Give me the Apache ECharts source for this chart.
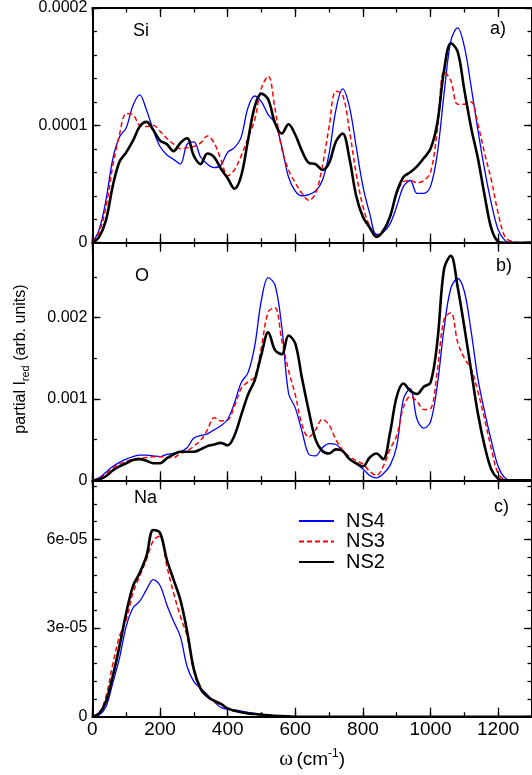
<!DOCTYPE html>
<html>
<head>
<meta charset="utf-8">
<script src="https://cdn.jsdelivr.net/npm/echarts@6.0.0/dist/echarts.min.js"></script>
<style>
  html, body { margin: 0; padding: 0; background: #fff; }
  #chart { width: 532px; height: 775px; }
</style>
</head>
<body>
<div id="chart"></div>
<script>
// frequency grid, cm^-1
const omega = [0, 20, 40, 60, 80, 100, 120, 140, 160, 180, 200, 220, 240, 260, 280, 300, 320, 340, 360, 380,
  400, 420, 440, 460, 480, 500, 520, 540, 560, 580, 600, 620, 640, 660, 680, 700, 720, 740, 760, 780,
  800, 820, 840, 860, 880, 900, 920, 940, 960, 980, 1000, 1020, 1040, 1060, 1080, 1100, 1120, 1140, 1160, 1180,
  1200, 1220, 1240, 1260, 1280, 1300];

// Si, in units of 1e-4
const siNS4 = [0, 0.11, 0.36, 0.71, 0.90, 0.98, 1.17, 1.26, 1.13, 0.96, 0.82, 0.75, 0.71, 0.67, 0.84, 0.86, 0.73, 0.67, 0.64, 0.66,
  0.77, 0.81, 0.90, 1.15, 1.25, 1.20, 1.09, 1.02, 0.82, 0.56, 0.44, 0.40, 0.41, 0.44, 0.53, 0.76, 1.13, 1.31, 1.16, 0.82,
  0.48, 0.25, 0.07, 0.09, 0.16, 0.31, 0.48, 0.53, 0.42, 0.42, 0.48, 0.76, 1.27, 1.72, 1.83, 1.67, 1.33, 0.96, 0.62, 0.33,
  0.11, 0.02, 0, 0, 0, 0];
const siNS3 = [0, 0.09, 0.30, 0.65, 0.92, 1.10, 1.09, 1.00, 0.99, 1.00, 0.95, 0.89, 0.84, 0.80, 0.81, 0.82, 0.85, 0.91, 0.85, 0.71,
  0.57, 0.62, 0.74, 0.89, 1.05, 1.32, 1.42, 1.14, 0.80, 0.62, 0.51, 0.42, 0.36, 0.42, 0.65, 0.99, 1.29, 1.26, 0.96, 0.59,
  0.31, 0.14, 0.06, 0.11, 0.22, 0.42, 0.52, 0.53, 0.51, 0.53, 0.60, 0.96, 1.46, 1.38, 1.18, 1.18, 1.20, 1.01, 0.76, 0.53,
  0.25, 0.05, 0.01, 0, 0, 0];
const siNS2 = [0, 0.05, 0.19, 0.48, 0.69, 0.77, 0.87, 0.99, 1.03, 0.96, 0.87, 0.84, 0.78, 0.85, 0.89, 0.74, 0.67, 0.76, 0.73, 0.63,
  0.55, 0.46, 0.57, 0.87, 1.16, 1.27, 1.22, 1.02, 0.93, 1.01, 0.92, 0.78, 0.68, 0.67, 0.62, 0.68, 0.86, 0.93, 0.72, 0.40,
  0.22, 0.13, 0.05, 0.10, 0.22, 0.43, 0.56, 0.60, 0.65, 0.72, 0.80, 1.02, 1.47, 1.70, 1.63, 1.30, 0.98, 0.72, 0.40, 0.12,
  0.01, 0, 0, 0, 0, 0];

// O, in units of 1e-3
const oNS4 = [0, 0.03, 0.10, 0.17, 0.22, 0.26, 0.29, 0.31, 0.31, 0.30, 0.29, 0.32, 0.33, 0.35, 0.40, 0.52, 0.55, 0.57, 0.62, 0.67,
  0.75, 0.95, 1.20, 1.32, 1.65, 2.22, 2.49, 2.40, 1.89, 1.07, 0.89, 0.60, 0.32, 0.30, 0.40, 0.45, 0.44, 0.36, 0.27, 0.20,
  0.14, 0.06, 0.03, 0.08, 0.18, 0.42, 1.00, 1.13, 0.75, 0.64, 0.72, 1.17, 1.87, 2.36, 2.48, 2.32, 1.83, 1.25, 0.84, 0.48,
  0.17, 0.03, 0, 0, 0, 0];
const oNS3 = [0, 0.02, 0.08, 0.15, 0.20, 0.23, 0.26, 0.27, 0.28, 0.29, 0.29, 0.28, 0.28, 0.33, 0.36, 0.42, 0.49, 0.62, 0.77, 0.73,
  0.74, 0.91, 1.13, 1.21, 1.27, 1.64, 2.07, 2.12, 1.72, 1.35, 1.05, 0.68, 0.53, 0.62, 0.75, 0.68, 0.50, 0.37, 0.29, 0.24,
  0.20, 0.11, 0.06, 0.17, 0.38, 0.55, 0.90, 1.03, 0.97, 0.87, 0.88, 1.35, 1.98, 2.06, 1.70, 1.50, 1.37, 1.09, 0.75, 0.38,
  0.08, 0.01, 0, 0, 0, 0];
const oNS2 = [0, 0.01, 0.05, 0.12, 0.17, 0.21, 0.25, 0.26, 0.24, 0.21, 0.21, 0.27, 0.32, 0.35, 0.35, 0.35, 0.38, 0.42, 0.44, 0.46,
  0.43, 0.55, 0.80, 1.05, 1.23, 1.55, 1.82, 1.60, 1.55, 1.78, 1.68, 1.25, 0.85, 0.50, 0.36, 0.33, 0.38, 0.36, 0.26, 0.21,
  0.17, 0.28, 0.33, 0.26, 0.58, 1.03, 1.19, 1.10, 1.06, 1.15, 1.20, 1.70, 2.60, 2.76, 2.38, 1.88, 1.35, 0.82, 0.42, 0.13,
  0.02, 0, 0, 0, 0, 0];

// Na, in units of 1e-5
const naNS4 = [0, 0.06, 0.34, 1.13, 1.98, 3.06, 3.68, 3.91, 4.30, 4.64, 4.44, 3.79, 3.23, 2.72, 1.70, 1.19, 0.96, 0.74, 0.51, 0.31,
  0.25, 0.23, 0.19, 0.15, 0.11, 0.08, 0.05, 0.03, 0.02, 0.01, 0, 0, 0, 0, 0, 0, 0, 0, 0, 0,
  0, 0, 0, 0, 0, 0, 0, 0, 0, 0, 0, 0, 0, 0, 0, 0, 0, 0, 0, 0,
  0, 0, 0, 0, 0, 0];
const naNS3 = [0, 0.11, 0.68, 1.76, 2.72, 3.28, 4.19, 4.76, 5.32, 5.95, 6.12, 5.10, 4.19, 3.40, 2.72, 1.53, 0.91, 0.68, 0.51, 0.40,
  0.27, 0.20, 0.15, 0.11, 0.09, 0.07, 0.05, 0.03, 0.02, 0.01, 0, 0, 0, 0, 0, 0, 0, 0, 0, 0,
  0, 0, 0, 0, 0, 0, 0, 0, 0, 0, 0, 0, 0, 0, 0, 0, 0, 0, 0, 0,
  0, 0, 0, 0, 0, 0];
const naNS2 = [0, 0.11, 0.51, 1.36, 2.38, 3.51, 4.42, 4.87, 5.44, 6.32, 6.22, 5.32, 4.64, 3.96, 2.90, 1.60, 0.95, 0.68, 0.54, 0.43,
  0.28, 0.20, 0.15, 0.11, 0.09, 0.07, 0.05, 0.03, 0.02, 0.01, 0, 0, 0, 0, 0, 0, 0, 0, 0, 0,
  0, 0, 0, 0, 0, 0, 0, 0, 0, 0, 0, 0, 0, 0, 0, 0, 0, 0, 0, 0,
  0, 0, 0, 0, 0, 0];

const seriesNames = ['NS4', 'NS3', 'NS2'];
const xTickLabels = ['0', '200', '400', '600', '800', '1000', '1200'];

const FONT = '"Liberation Sans", Arial, Helvetica, sans-serif';
const lineStyles = [
  { color: '#0000ff', width: 1.3, type: 'solid' },
  { color: '#ff0000', width: 1.5, type: [5, 3] },
  { color: '#000000', width: 2.6, type: 'solid' }
];

const panels = [
  { top: 7.3, height: 235.4, max: 2, major: 1, minor: 0.2,
    labels: { 0: '0', 1: '0.0001', 2: '0.0002' }, data: [siNS4, siNS3, siNS2] },
  { top: 242.7, height: 237.6, max: 2.92, major: 1, minor: 0.5,
    labels: { 0: '0', 1: '0.001', 2: '0.002' }, data: [oNS4, oNS3, oNS2] },
  { top: 480.3, height: 236.4, max: 8, major: 3, minor: 0.6,
    labels: { 0: '0', 3: '3e-05', 6: '6e-05' }, data: [naNS4, naNS3, naNS2] }
];

const grids = [], xAxes = [], yAxes = [], series = [];

panels.forEach((p, i) => {
  const last = i === panels.length - 1;
  grids.push({ left: 92.4, width: 443.9, top: p.top, height: p.height });

  // x: bottom major, bottom minor, top major, top minor
  [['bottom', 200, 9, true], ['bottom', 100, 4.5, false], ['top', 200, 9, true], ['top', 100, 4.5, false]]
    .forEach(([pos, step, len, major]) => {
      const ax = {
        type: 'value', gridIndex: i, position: pos, min: 0, max: 1300, interval: step,
        axisLine: { show: major, onZero: false, lineStyle: { color: '#000', width: 2 } },
        axisTick: { inside: true, length: len, lineStyle: { color: '#000', width: 1.3 } },
        axisLabel: { show: false },
        splitLine: { show: false }
      };
      if (last && pos === 'bottom' && major) {
        ax.axisLabel = {
          show: true, margin: 4, color: '#000', fontFamily: FONT, fontSize: 19,
          showMaxLabel: false,
          formatter: v => (xTickLabels.includes(String(v)) ? String(v) : '')
        };
        ax.name = '{w|ω} {t|(cm}{s|-1}{t|)}';
        ax.nameLocation = 'middle';
        ax.nameGap = 31;
        ax.nameTextStyle = {
          rich: {
            w: { fontFamily: '"Liberation Serif", "DejaVu Serif", serif', fontSize: 21, color: '#000' },
            t: { fontFamily: FONT, fontSize: 19, color: '#000' },
            s: { fontFamily: FONT, fontSize: 12, color: '#000', padding: [0, 0, 12, 0] }
          }
        };
      }
      xAxes.push(ax);
    });

  // y: left major, left minor, right major, right minor
  [['left', p.major, 8, true], ['left', p.minor, 4.5, false], ['right', p.major, 8, true], ['right', p.minor, 4.5, false]]
    .forEach(([pos, step, len, major]) => {
      const ax = {
        type: 'value', gridIndex: i, position: pos, min: 0, max: p.max, interval: step,
        axisLine: { show: major, onZero: false, lineStyle: { color: '#000', width: 2 } },
        axisTick: { inside: true, length: len, lineStyle: { color: '#000', width: 1.3 } },
        axisLabel: { show: false },
        splitLine: { show: false }
      };
      if (pos === 'left' && major) {
        ax.axisLabel = {
          show: true, margin: 5, color: '#000', fontFamily: FONT, fontSize: 16,
          formatter: v => (p.labels[v] !== undefined ? p.labels[v] : '')
        };
      }
      yAxes.push(ax);
    });

  p.data.forEach((vals, k) => {
    series.push({
      name: seriesNames[k],
      type: 'line',
      xAxisIndex: i * 4,
      yAxisIndex: i * 4,
      data: omega.map((w, j) => [w, vals[j]]),
      showSymbol: false,
      symbol: 'none',
      smooth: 0.35,
      lineStyle: lineStyles[k],
      itemStyle: { color: lineStyles[k].color },
      z: 2 + k
    });
  });
});

const txt = (text, x, y) => ({
  type: 'text', x: x, y: y,
  style: { text: text, fill: '#000', font: '18px ' + FONT, verticalAlign: 'middle' }
});

const chart = echarts.init(document.getElementById('chart'), null, { renderer: 'canvas' });
chart.setOption({
  backgroundColor: '#fff',
  animation: false,
  grid: grids,
  xAxis: xAxes,
  yAxis: yAxes,
  series: series,
  legend: {
    data: seriesNames,
    orient: 'vertical',
    left: 298,
    top: 511,
    padding: 0,
    itemWidth: 35,
    itemHeight: 20,
    itemGap: 0.5,
    selectedMode: false,
    itemStyle: { opacity: 0 },
    textStyle: { fontFamily: FONT, fontSize: 20, lineHeight: 20, color: '#000', padding: [0, 0, 0, 7] }
  },
  graphic: [
    txt('Si', 133, 31),
    txt('O', 135, 276),
    txt('Na', 134, 498),
    txt('a)', 490, 29),
    txt('b)', 496, 266),
    txt('c)', 494, 507),
    {
      type: 'text', x: 21, y: 359, rotation: Math.PI / 2,
      style: {
        text: '{a|partial I}{s|red}{a| (arb. units)}',
        align: 'center', verticalAlign: 'middle',
        rich: {
          a: { fontFamily: FONT, fontSize: 16, fill: '#000', color: '#000' },
          s: { fontFamily: FONT, fontSize: 11, fill: '#000', color: '#000', padding: [9, 0, 0, 0] }
        }
      }
    }
  ]
});
</script>
</body>
</html>
